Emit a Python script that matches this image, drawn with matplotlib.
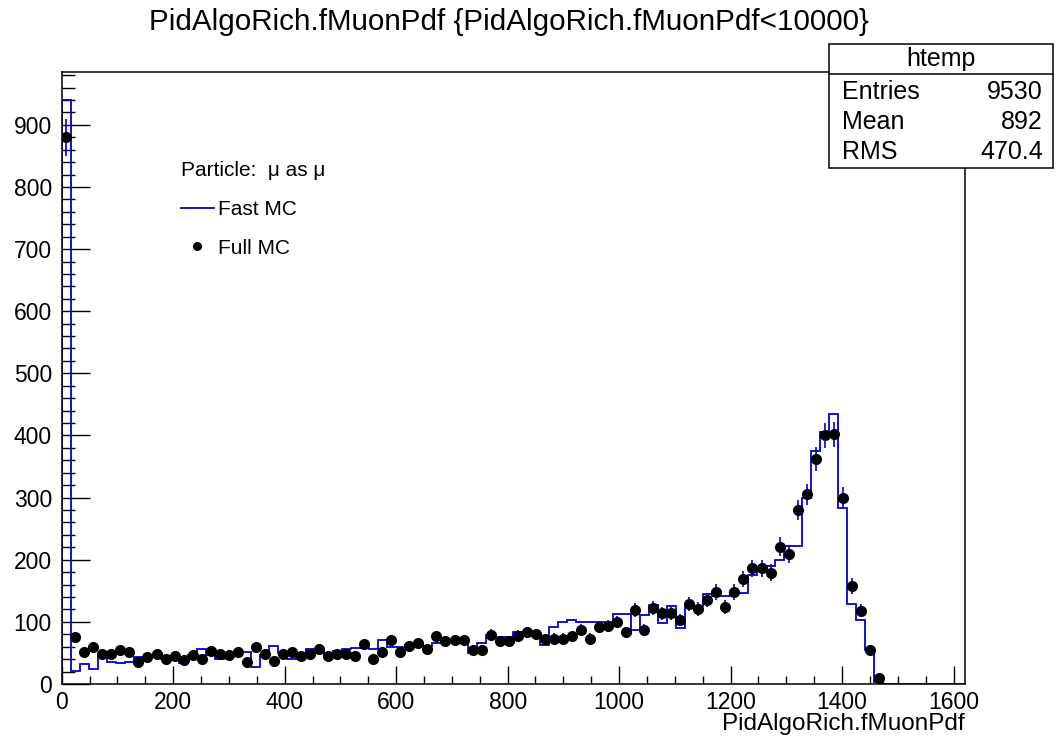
import numpy as np
import matplotlib
matplotlib.use("Agg")
import matplotlib.pyplot as plt
from matplotlib.lines import Line2D
from matplotlib.patches import Rectangle

plt.rcParams['font.family'] = ['Liberation Sans', 'DejaVu Sans']

# histogram binning (100 bins, ROOT htemp)
x_min, x_max, n_bins = 0, 1620, 100
edges = np.linspace(x_min, x_max, n_bins + 1)
centers = 0.5 * (edges[:-1] + edges[1:])

# Fast MC (blue step histogram), bins 0..90, rest empty
fast_mc = [940, 21, 32, 24, 49, 36, 34, 36, 44, 44,
           46, 41, 44, 34, 46, 56, 46, 41, 43, 52,
           52, 27, 47, 61, 50, 41, 50, 57, 57, 48,
           53, 56, 58, 58, 56, 71, 60, 60, 63, 61,
           61, 66, 71, 71, 68, 50, 66, 79, 76, 76,
           84, 83, 77, 62, 91, 99, 103, 100, 99, 99,
           99, 112, 112, 87, 111, 127, 98, 125, 90, 127,
           125, 145, 142, 142, 147, 147, 176, 185, 190, 199,
           222, 222, 300, 375, 405, 435, 283, 129, 103, 55,
           4]
# Full MC (black points)
full_mc = [880, 75, 51, 60, 48, 48, 54, 51, 35, 43,
           48, 40, 45, 39, 46, 40, 53, 48, 47, 51,
           35, 59, 48, 37, 49, 51, 45, 48, 57, 45,
           48, 48, 45, 65, 40, 51, 71, 51, 61, 66,
           56, 77, 69, 71, 71, 54, 54, 79, 69, 69,
           78, 83, 80, 72, 73, 73, 77, 87, 73, 91,
           94, 100, 83, 119, 87, 122, 114, 114, 103, 129,
           121, 135, 148, 124, 148, 169, 186, 186, 179, 221,
           210, 280, 305, 362, 400, 402, 300, 158, 118, 54,
           10]

fast = np.zeros(n_bins)
fast[:len(fast_mc)] = fast_mc
full = np.zeros(n_bins)
full[:len(full_mc)] = full_mc

blue = '#0000cc'

fig = plt.figure(figsize=(10.56, 7.41), dpi=100)
ax = fig.add_axes([61.7 / 1056, 57 / 741, 903 / 1056, 612 / 741])

ax.stairs(fast, edges, baseline=0, color=blue, lw=1.3, zorder=2)

m = full > 0
ax.errorbar(centers[m], full[m], yerr=np.sqrt(full[m]), fmt='none',
            ecolor=blue, elinewidth=1.2, zorder=3)
ax.plot(centers[m], full[m], 'o', color='black', ms=7, zorder=4)

ax.set_xlim(x_min, x_max)
ax.set_ylim(0, 985)
ax.set_xticks(np.arange(0, 1601, 200))
ax.set_xticks(np.arange(0, 1620, 50), minor=True)
ax.set_yticks(np.arange(0, 901, 100))
ax.set_yticks(np.arange(0, 985, 20), minor=True)
ax.tick_params(axis='both', which='both', direction='in', top=False, right=False,
               labelsize=16.5, width=1)
ax.tick_params(axis='x', which='major', length=13, pad=5)
ax.tick_params(axis='x', which='minor', length=6)
ax.tick_params(axis='y', which='major', length=20, pad=7)
ax.tick_params(axis='y', which='minor', length=9.5)
for s in ax.spines.values():
    s.set_linewidth(1.1)

ax.set_xlabel('PidAlgoRich.fMuonPdf', fontsize=17.5, loc='right', labelpad=-1)

handles = [Line2D([], [], color=blue, lw=1.3),
           Line2D([], [], ls='none', marker='o', color='black', ms=5.5)]
leg = ax.legend(handles, ['Fast MC', 'Full MC'], title='Particle:  \u03bc as \u03bc',
                loc='upper left', bbox_to_anchor=(0.111, 0.885), frameon=False,
                fontsize=15, title_fontsize=15, handlelength=1.6, handletextpad=0.2,
                labelspacing=0.95, alignment='left')

fig.text(509 / 1056, 1 - 22 / 741, 'PidAlgoRich.fMuonPdf {PidAlgoRich.fMuonPdf<10000}',
         ha='center', va='center', fontsize=21.3)

# stats box
box = Rectangle((829 / 1056, 1 - 168 / 741), 224 / 1056, 124 / 741,
                transform=fig.transFigure, facecolor='white', edgecolor='black',
                lw=1.1, zorder=10)
fig.add_artist(box)
fig.add_artist(Line2D([829 / 1056, 1053 / 1056], [1 - 74 / 741, 1 - 74 / 741],
                      transform=fig.transFigure, color='black', lw=1.1, zorder=11))
fig.text(941 / 1056, 1 - 59 / 741, 'htemp', ha='center', va='center', fontsize=18, zorder=12)
stats = [('Entries', '9530'), ('Mean', '892'), ('RMS', '470.4')]
for i, (k, v) in enumerate(stats):
    yy = 1 - (92 + 30 * i) / 741
    fig.text(842 / 1056, yy, k, ha='left', va='center', fontsize=18, zorder=12)
    fig.text(1043 / 1056, yy, v, ha='right', va='center', fontsize=18, zorder=12)

fig.savefig('out.png', dpi=100)
